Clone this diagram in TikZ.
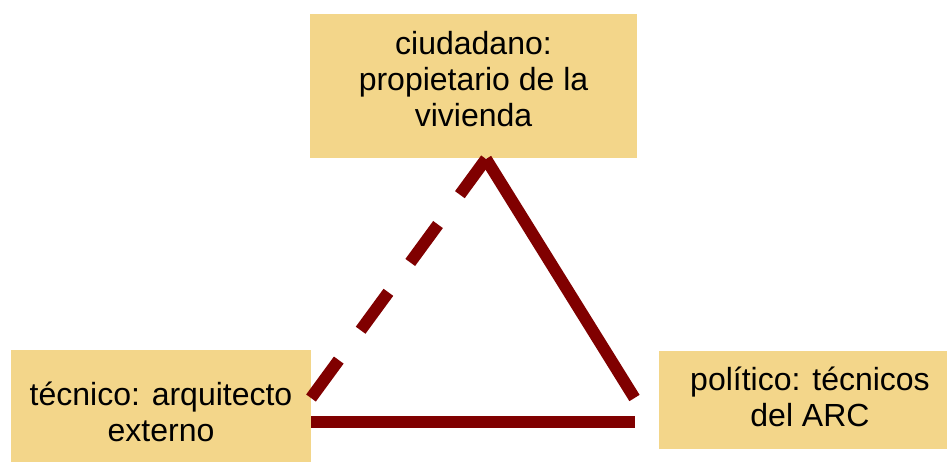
\documentclass[tikz,border=0pt]{standalone}
\usepackage{fontspec}
\setmainfont{Liberation Sans}
\definecolor{boxfill}{HTML}{F3D68A}
\definecolor{linkred}{HTML}{800000}
\newcommand{\boxtext}[1]{\begin{tabular}[t]{@{}c@{}}#1\end{tabular}}
\begin{document}
\begin{tikzpicture}[x=1pt,y=-1pt,
  box/.style={fill=boxfill, draw=none, inner sep=0pt},
  txt/.style={inner sep=0pt, anchor=base, font=\fontsize{32}{36}\selectfont},
  link/.style={draw=linkred, line width=12pt, line cap=butt},
  dashlink/.style={link, dash pattern=on 47pt off 37pt}]
\useasboundingbox (0,0) rectangle (947,461);
\clip (0,0) rectangle (947,461);
% boxes
\node[box, minimum width=327pt, minimum height=144pt] (ciudbox) at (473.5,86) {};
\node[box, minimum width=300pt, minimum height=122pt] (tecbox) at (161,411) {};
\node[box, minimum width=302pt, minimum height=98pt] (polbox) at (810,400) {};
% texts
\node[txt] (ciud) at (473.5,54.5) {\boxtext{ciudadano:\\propietario de la\\vivienda}};
\node[txt] (tec) at (161,405) {\boxtext{técnico: arquitecto\\externo}};
\node[txt] (pol) at (810,390) {\boxtext{político: técnicos\\del ARC}};
% triangle
\coordinate (apex) at (486,159);
\coordinate (bl) at (311,398);
\coordinate (br) at (634.5,398);
\coordinate (bbl) at (311,422);
\coordinate (bbr) at (634.5,422);
\draw[dashlink] (bl) -- (apex);
\draw[link] (apex) -- (br);
\draw[link] (bbl) -- (bbr);
\end{tikzpicture}
\end{document}
